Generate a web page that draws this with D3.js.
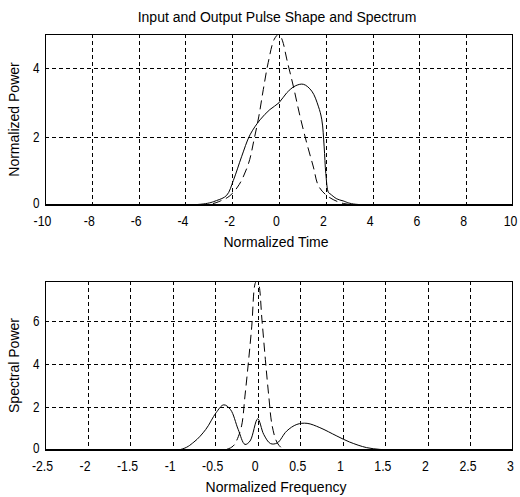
<!DOCTYPE html>
<html>
<head>
<meta charset="utf-8">
<script src="https://cdn.jsdelivr.net/npm/d3@7"></script>
<style>
  body { margin: 0; background: #fff; }
  text { font-family: "Liberation Sans", Arial, sans-serif; fill: #000; }
</style>
</head>
<body>
<div class="container"></div>
<script>
// pulse shape (time domain)
var timeIn = [-10, -3, -2.5, -2.1, -1.7, -1.3, -1.07, -0.86, -0.67, -0.46, -0.2, 0, 0.15, 0.33, 0.61, 0.9, 1.19, 1.47, 1.68, 2, 2.5, 3, 10];
var powerIn = [0, 0.02, 0.12, 0.27, 0.6, 1.22, 1.9, 2.6, 3.38, 4.17, 4.85, 5.0, 4.8, 4.27, 3.48, 2.59, 1.8, 1.11, 0.57, 0.3, 0.1, 0.02, 0];
var timeOut = [-10, -3.24, -2.67, -2.24, -1.95, -1.6, -1.24, -0.81, -0.39, 0, 0.33, 0.69, 1.04, 1.4, 1.68, 1.83, 1.93, 2.0, 2.11, 2.18, 2.47, 2.74, 3.18, 10];
var powerOut = [0, 0.03, 0.13, 0.28, 0.72, 1.41, 2.05, 2.49, 2.79, 2.99, 3.28, 3.48, 3.53, 3.33, 2.89, 2.49, 1.7, 0.92, 0.37, 0.33, 0.18, 0.12, 0.03, 0];

// spectrum
var freqIn = [-2.5, -0.4, -0.29, -0.25, -0.19, -0.15, -0.11, -0.07, -0.03, -0.01, 0.01, 0.05, 0.09, 0.13, 0.17, 0.23, 0.3, 0.4, 3];
var specIn = [0, 0, 0.18, 0.42, 1.12, 2.51, 4.06, 5.76, 7.75, 7.86, 7.75, 6.04, 4.2, 2.5, 1.12, 0.33, 0.05, 0, 0];
var freqOut = [-2.5, -0.91, -0.75, -0.61, -0.49, -0.4, -0.32, -0.23, -0.15, -0.09, 0, 0.07, 0.15, 0.23, 0.34, 0.46, 0.58, 0.73, 0.93, 1.08, 1.28, 1.43, 1.55, 3];
var specOut = [0, 0.02, 0.37, 0.96, 1.73, 2.1, 1.88, 0.96, 0.26, 0.42, 1.45, 0.73, 0.3, 0.33, 0.88, 1.19, 1.24, 1.04, 0.65, 0.37, 0.11, 0.03, 0, 0];

var timeTicks = [-10, -8, -6, -4, -2, 0, 2, 4, 6, 8, 10];
var powerTicks = [0, 2, 4];
var freqTicks = [-2.5, -2, -1.5, -1, -0.5, 0, 0.5, 1, 1.5, 2, 2.5, 3];
var specTicks = [0, 2, 4, 6];

var width = 520, height = 497;

var svg = d3.select(".container").append("svg")
    .attr("width", width)
    .attr("height", height);

svg.append("text")
    .attr("x", 277).attr("y", 22)
    .attr("text-anchor", "middle")
    .style("font-size", "14px")
    .text("Input and Output Pulse Shape and Spectrum");

function zip(xs, ys) {
  return xs.map(function (x, i) { return [x, ys[i]]; });
}

function panel(opt) {
  var x = d3.scaleLinear().domain(opt.xDomain).range([45, 513]);
  var y = d3.scaleLinear().domain(opt.yDomain).range([opt.bottom, opt.top]);
  var g = svg.append("g");

  // grid
  g.selectAll(".vgrid").data(opt.xTicks.slice(1, -1))
    .enter().append("line")
    .attr("x1", function (d) { return Math.round(x(d)) + 0.5; })
    .attr("x2", function (d) { return Math.round(x(d)) + 0.5; })
    .attr("y1", opt.top).attr("y2", opt.bottom)
    .attr("stroke", "#000").attr("stroke-dasharray", "4,3");
  g.selectAll(".hgrid").data(opt.yTicks.slice(1))
    .enter().append("line")
    .attr("x1", 45).attr("x2", 513)
    .attr("y1", function (d) { return Math.round(y(d)) + 0.5; })
    .attr("y2", function (d) { return Math.round(y(d)) + 0.5; })
    .attr("stroke", "#000").attr("stroke-dasharray", "4,3");

  var line = d3.line()
    .x(function (d) { return x(d[0]); })
    .y(function (d) { return y(d[1]); })
    .curve(d3.curveCatmullRom);

  var clipId = "clip" + opt.top;
  svg.append("clipPath").attr("id", clipId)
    .append("rect").attr("x", 45).attr("y", opt.top)
    .attr("width", 468).attr("height", opt.bottom - opt.top);

  g.append("path").datum(opt.dashed)
    .attr("d", line).attr("fill", "none")
    .attr("stroke", "#000").attr("stroke-width", 1)
    .attr("stroke-dasharray", "9,5")
    .attr("clip-path", "url(#" + clipId + ")");
  g.append("path").datum(opt.solid)
    .attr("d", line).attr("fill", "none")
    .attr("stroke", "#000").attr("stroke-width", 1)
    .attr("clip-path", "url(#" + clipId + ")");

  // frame
  g.append("rect")
    .attr("x", 45.5).attr("y", opt.top + 0.5)
    .attr("width", 467).attr("height", opt.bottom - opt.top)
    .attr("fill", "none").attr("stroke", "#000");
  g.append("line")
    .attr("x1", 45).attr("x2", 513)
    .attr("y1", opt.bottom).attr("y2", opt.bottom)
    .attr("stroke", "#000").attr("stroke-width", 2);

  // tick labels (narrow, tall glyphs)
  g.selectAll(".xl").data(opt.xTicks)
    .enter().append("text")
    .attr("transform", function (d) {
      return "translate(" + (x(d) - 2.5) + "," + (opt.bottom + 21) + ") scale(0.82,1)";
    })
    .attr("text-anchor", "middle")
    .style("font-size", "15px")
    .text(function (d) { return d; });
  g.selectAll(".yl").data(opt.yTicks)
    .enter().append("text")
    .attr("transform", function (d) {
      return "translate(39.5," + (y(d) + (d === 0 ? 3 : 5)) + ") scale(0.78,1)";
    })
    .attr("text-anchor", "end")
    .style("font-size", "15px")
    .text(function (d) { return d; });

  g.append("text")
    .attr("x", 276).attr("y", opt.bottom + 42)
    .attr("text-anchor", "middle")
    .style("font-size", "14px")
    .text(opt.xLabel);
  g.append("text")
    .attr("transform", "translate(19," + ((opt.top + opt.bottom) / 2) + ") rotate(-90)")
    .attr("text-anchor", "middle")
    .style("font-size", "14px")
    .text(opt.yLabel);
}

panel({
  top: 34, bottom: 205,
  xDomain: [-10, 10], yDomain: [0, 5],
  xTicks: timeTicks, yTicks: powerTicks,
  dashed: zip(timeIn, powerIn), solid: zip(timeOut, powerOut),
  xLabel: "Normalized Time", yLabel: "Normalized Power"
});

panel({
  top: 281, bottom: 450,
  xDomain: [-2.5, 3], yDomain: [0, 7.86],
  xTicks: freqTicks, yTicks: specTicks,
  dashed: zip(freqIn, specIn), solid: zip(freqOut, specOut),
  xLabel: "Normalized Frequency", yLabel: "Spectral Power"
});
</script>
</body>
</html>
